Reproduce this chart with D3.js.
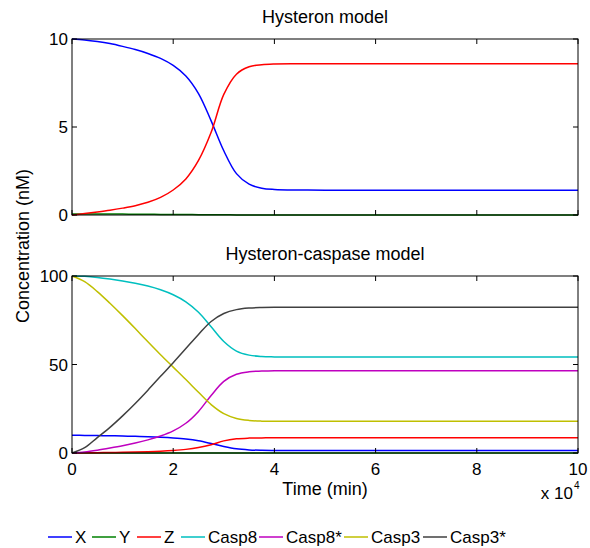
<!DOCTYPE html>
<html>
<head>
<meta charset="utf-8">
<script src="https://cdn.jsdelivr.net/npm/d3@7/dist/d3.min.js"></script>
<style>
  html, body { margin: 0; padding: 0; background: #fff; }
  svg { display: block; }
  text { font-family: "Liberation Sans", Arial, Helvetica, sans-serif; fill: #000; }
</style>
</head>
<body>
<svg id="chart" width="590" height="548"></svg>
<script>
// ---- data (time in minutes) ----
const times = [0, 2500, 5000, 7500, 10000, 12500, 15000, 17500, 20000, 22500, 25000, 27500,
               30000, 32500, 35000, 37500, 40000, 45000, 50000, 60000, 70000, 80000, 90000, 100000];
const X      = [10, 9.95, 9.86, 9.74, 9.58, 9.4, 9.18, 8.9, 8.5, 7.9, 6.9, 5.35,
                3.65, 2.35, 1.75, 1.52, 1.45, 1.42, 1.41, 1.4, 1.4, 1.4, 1.4, 1.4];
const Y      = [0.06, 0.06, 0.055, 0.055, 0.05, 0.045, 0.04, 0.035, 0.03, 0.025, 0.02, 0.015,
                0.01, 0.005, 0, 0, 0, 0, 0, 0, 0, 0, 0, 0];
const Z      = [0, 0.08, 0.17, 0.27, 0.39, 0.53, 0.72, 1.0, 1.42, 2.05, 3.1, 4.7,
                6.85, 8.0, 8.42, 8.54, 8.58, 8.59, 8.6, 8.6, 8.6, 8.6, 8.6, 8.6];
const Casp8  = [100, 99.8, 99.2, 98.3, 97.2, 95.9, 94.3, 92.2, 89.4, 85.4, 79.5, 71.3,
                63.0, 57.6, 55.3, 54.5, 54.3, 54.2, 54.2, 54.2, 54.2, 54.2, 54.2, 54.2];
const Casp8s = [0, 0.6, 1.6, 2.8, 4.1, 5.6, 7.4, 9.6, 12.5, 16.8, 23.5, 32.5,
                40.5, 44.5, 45.9, 46.3, 46.5, 46.5, 46.5, 46.5, 46.5, 46.5, 46.5, 46.5];
const Casp3  = [100, 96.8, 91.2, 84.6, 77.6, 70.3, 62.8, 55.5, 48.5, 41.5, 34.3, 27.3,
                22.2, 19.5, 18.4, 18.0, 17.9, 17.9, 17.9, 17.9, 17.9, 17.9, 17.9, 17.9];
const Casp3s = [0, 3, 8.7, 14.5, 21, 28, 35.5, 43.3, 51, 59, 67, 74.3,
                78.8, 81, 81.9, 82.2, 82.3, 82.3, 82.3, 82.3, 82.3, 82.3, 82.3, 82.3];

const seriesNames  = ["X", "Y", "Z", "Casp8", "Casp8*", "Casp3", "Casp3*"];
const seriesColors = ["#0000ff", "#008000", "#ff0000", "#00bfbf", "#bf00bf", "#bfbf00", "#404040"];
const seriesValues = [X, Y, Z, Casp8, Casp8s, Casp3, Casp3s];

const xTicks = [0, 20000, 40000, 60000, 80000, 100000];
const topYTicks = [0, 5, 10];
const botYTicks = [0, 50, 100];
const titles = ["Hysteron model", "Hysteron-caspase model"];

// ---- layout ----
const svg = d3.select("#chart");
const FONT = 17, LFONT = 18;
const left = 72, right = 578;
const x = d3.scaleLinear().domain([0, 100000]).range([left, right]);

const panels = [
  { title: titles[0], y: d3.scaleLinear().domain([0, 10]).range([215, 39]),  ticks: topYTicks, series: [0, 1, 2], xLabels: false },
  { title: titles[1], y: d3.scaleLinear().domain([0, 100]).range([453, 276]), ticks: botYTicks, series: [0, 1, 2, 3, 4, 5, 6], xLabels: true }
];

const TL = 5; // tick length (inward)

panels.forEach(p => {
  const g = svg.append("g");
  const [y0, y1] = p.y.range();

  const line = d3.line()
    .x((d, i) => x(times[i]))
    .y(d => p.y(d))
    .curve(d3.curveCatmullRom.alpha(0.5));
  p.series.forEach(si => {
    g.append("path")
      .attr("d", line(seriesValues[si]))
      .attr("fill", "none")
      .attr("stroke", seriesColors[si])
      .attr("stroke-width", 1.5);
  });

  g.append("rect")
    .attr("x", left).attr("y", y1)
    .attr("width", right - left).attr("height", y0 - y1)
    .attr("fill", "none").attr("stroke", "#000").attr("stroke-width", 1);

  xTicks.forEach(t => {
    const xx = x(t);
    g.append("line").attr("x1", xx).attr("x2", xx).attr("y1", y0).attr("y2", y0 - TL)
      .attr("stroke", "#000");
    g.append("line").attr("x1", xx).attr("x2", xx).attr("y1", y1).attr("y2", y1 + TL)
      .attr("stroke", "#000");
    if (p.xLabels) {
      g.append("text").attr("x", xx).attr("y", y0 + 22)
        .attr("text-anchor", "middle").attr("font-size", FONT)
        .text(d3.format("d")(t / 10000));
    }
  });

  p.ticks.forEach(v => {
    const yy = p.y(v);
    g.append("line").attr("x1", left).attr("x2", left + TL).attr("y1", yy).attr("y2", yy)
      .attr("stroke", "#000");
    g.append("line").attr("x1", right).attr("x2", right - TL).attr("y1", yy).attr("y2", yy)
      .attr("stroke", "#000");
    g.append("text").attr("x", left - 4).attr("y", yy).attr("dy", "0.36em")
      .attr("text-anchor", "end").attr("font-size", FONT)
      .text(v);
  });

  g.append("text").attr("x", (left + right) / 2).attr("y", y1 - 16)
    .attr("text-anchor", "middle").attr("font-size", LFONT)
    .text(p.title);
});

// x axis label & exponent
svg.append("text").attr("x", (left + right) / 2).attr("y", 495)
  .attr("text-anchor", "middle").attr("font-size", LFONT).text("Time (min)");
svg.append("text").attr("x", 573).attr("y", 499)
  .attr("text-anchor", "end").attr("font-size", FONT).text("x 10");
svg.append("text").attr("x", 574).attr("y", 489)
  .attr("text-anchor", "start").attr("font-size", 10).text("4");

// y axis label
svg.append("text")
  .attr("transform", "translate(29,246) rotate(-90)")
  .attr("text-anchor", "middle").attr("font-size", LFONT)
  .text("Concentration (nM)");

// legend
const legY = 537;
const legendX = [48, 92, 137, 181, 259, 344, 423];
seriesNames.forEach((name, i) => {
  const lx = legendX[i];
  svg.append("line").attr("x1", lx).attr("x2", lx + 24).attr("y1", legY).attr("y2", legY)
    .attr("stroke", seriesColors[i]).attr("stroke-width", 1.5);
  svg.append("text").attr("x", lx + 27).attr("y", legY + 6)
    .attr("font-size", FONT).text(name);
});
</script>
</body>
</html>
